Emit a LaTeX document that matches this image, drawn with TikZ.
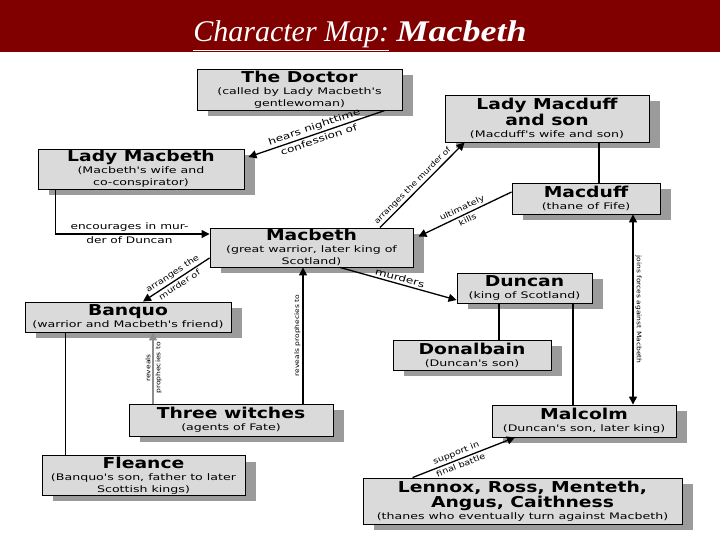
\documentclass[tikz,border=0pt]{standalone}
\usepackage{fontspec}
\usetikzlibrary{arrows.meta, shadows}

\newfontfamily\hdfont{DejaVu Sans}[FakeStretch=1.25]
\newfontfamily\subfontfam{DejaVu Sans}[FakeStretch=1.4]
\newfontfamily\lblfontfam{DejaVu Sans}[FakeStretch=1.2]
\newfontfamily\biglblfam{DejaVu Sans}[FakeStretch=1.35]
\newfontfamily\ttlfont{Liberation Serif}
\newfontfamily\ttlwide{Liberation Serif}[FakeStretch=1.2]

\newcommand\hd{\hdfont\bfseries\fontsize{15}{14.5}\selectfont}
\newcommand\subt{\subfontfam\fontsize{9}{9.5}\selectfont}

\definecolor{titlered}{RGB}{128,0,0}
\definecolor{boxgray}{RGB}{218,218,218}
\definecolor{shadowgray}{RGB}{155,155,155}

\begin{document}
\begin{tikzpicture}[
  x=1pt, y=-1pt,
  person/.style={draw, fill=boxgray, align=center, inner sep=1pt, line width=0.9pt,
    drop shadow={shadow xshift=11pt, shadow yshift=-6pt, fill=shadowgray, opacity=1}},
  link/.style={-{Triangle[length=8pt,width=8pt]}, line width=1.3pt},
  twoway/.style={{Triangle[length=8pt,width=8pt]}-{Triangle[length=8pt,width=8pt]}, line width=1.3pt},
  tie/.style={line width=1.3pt},
  lbl/.style={font=\lblfontfam\fontsize{8}{8.5}\selectfont, sloped, inner sep=2pt},
  biglbl/.style={font=\biglblfam\fontsize{9}{9.5}\selectfont, sloped, inner sep=2pt},
  smalllbl/.style={font=\lblfontfam\fontsize{7.5}{8}\selectfont, sloped, inner sep=2pt},
  vlbl/.style={font=\lblfontfam\fontsize{6.3}{7}\selectfont, inner sep=2pt}
]
  \useasboundingbox (0,0) rectangle (720,540);
  \fill[titlered] (0,0) rectangle (720,52);
  \node[text=white, anchor=base, inner sep=0pt] (title) at (360,42)
    {\ttlfont\itshape\fontsize{30}{30}\selectfont\underline{Character Map:} {\ttlwide\bfseries\itshape Macbeth}};

  % characters
  \node[person, minimum width=205pt, minimum height=41pt] (doctor) at (299.5,89.5)
    {\hd The Doctor\\\subt (called by Lady Macbeth's\\\subt gentlewoman)};
  \node[person, minimum width=204pt, minimum height=47pt] (ladymacduff) at (547,118.5)
    {\hd Lady Macduff\\\hd and son\\\subt (Macduff's wife and son)};
  \node[person, minimum width=206pt, minimum height=40pt] (ladymacbeth) at (141,169)
    {\hd Lady Macbeth\\\subt (Macbeth's wife and\\\subt co-conspirator)};
  \node[person, minimum width=148pt, minimum height=31pt] (macduff) at (586,198.5)
    {\hd Macduff\\\subt (thane of Fife)};
  \node[person, minimum width=203pt, minimum height=39pt] (macbeth) at (311.5,247.5)
    {\hd Macbeth\\\subt (great warrior, later king of\\\subt Scotland)};
  \node[person, minimum width=206pt, minimum height=30pt] (banquo) at (128,317)
    {\hd Banquo\\\subt (warrior and Macbeth's friend)};
  \node[person, minimum width=135pt, minimum height=30pt] (duncan) at (524.5,288)
    {\hd Duncan\\\subt (king of Scotland)};
  \node[person, minimum width=158pt, minimum height=30pt] (donalbain) at (472,355)
    {\hd Donalbain\\\subt (Duncan's son)};
  \node[person, minimum width=204pt, minimum height=32pt] (witches) at (231,420)
    {\hd Three witches\\\subt (agents of Fate)};
  \node[person, minimum width=184pt, minimum height=32pt] (malcolm) at (584,421)
    {\hd Malcolm\\\subt (Duncan's son, later king)};
  \node[person, minimum width=203pt, minimum height=39pt] (fleance) at (143.5,475.5)
    {\hd Fleance\\\subt (Banquo's son, father to later\\\subt Scottish kings)};
  \node[person, minimum width=319pt, minimum height=46pt] (thanes) at (522.5,501)
    {\hd Lennox, Ross, Menteth,\\\hd Angus, Caithness\\\subt (thanes who eventually turn against Macbeth)};

  % relations
  \draw[link] ([xshift=85.5pt]doctor.south) -- node[biglbl, above] {hears nighttime} node[biglbl, below] {confession of} ([xshift=4pt,yshift=12pt]ladymacbeth.east);
  \draw[link] ([xshift=68.5pt]macbeth.north) -- node[smalllbl, above, pos=0.44] {arranges the murder of} ([xshift=20pt]ladymacduff.south west);
  \draw[link] ([yshift=6.5pt]macduff.west) -- node[lbl, above] {ultimately} node[lbl, below] {kills} ([xshift=5pt,yshift=11pt]macbeth.east);
  \draw[tie] ([xshift=52pt]ladymacduff.south) -- ([xshift=52pt]ladymacduff.south |- macduff.north);
  \draw[link] ([xshift=18pt]ladymacbeth.south west) |- node[biglbl, above, pos=0.74] {encourages in mur-} node[biglbl, below, pos=0.74] {der of Duncan} ([yshift=13.5pt]macbeth.west);
  \draw[link] ([yshift=-10.5pt]macbeth.west) -- node[lbl, above] {arranges the} node[lbl, below] {murder of} ([xshift=15pt]banquo.north);
  \draw[link] ([xshift=28.5pt]macbeth.south) -- node[biglbl, above] {murders} ([yshift=-12pt]duncan.west);
  \draw[tie] ([xshift=-25.5pt]duncan.south) -- ([xshift=-25.5pt]duncan.south |- donalbain.north);
  \draw[tie] ([xshift=48.5pt]duncan.south) -- ([xshift=48.5pt]duncan.south |- malcolm.north);
  \draw[twoway] ([xshift=47pt]macduff.south) -- node[vlbl, rotate=-90, anchor=south] {joins forces against Macbeth} ([xshift=47pt]macduff.south |- malcolm.north);
  \draw[link, black!45] ([xshift=-78pt]witches.north) -- node[vlbl, text=black, rotate=90, anchor=south] {reveals} node[vlbl, text=black, rotate=90, anchor=north] {prophecies to} ([xshift=-78pt]witches.north |- banquo.south);
  \draw[link] ([xshift=72pt]witches.north) -- node[vlbl, rotate=90, anchor=south] {reveals prophecies to} ([xshift=72pt]witches.north |- macbeth.south);
  \draw[tie] ([xshift=41pt]banquo.south west) -- ([xshift=41pt]banquo.south west |- fleance.north);
  \draw[link] ([xshift=50pt]thanes.north west) -- node[lbl, above, pos=0.45] {support in} node[lbl, below, pos=0.45] {final battle} ([xshift=-69pt]malcolm.south);
\end{tikzpicture}
\end{document}
